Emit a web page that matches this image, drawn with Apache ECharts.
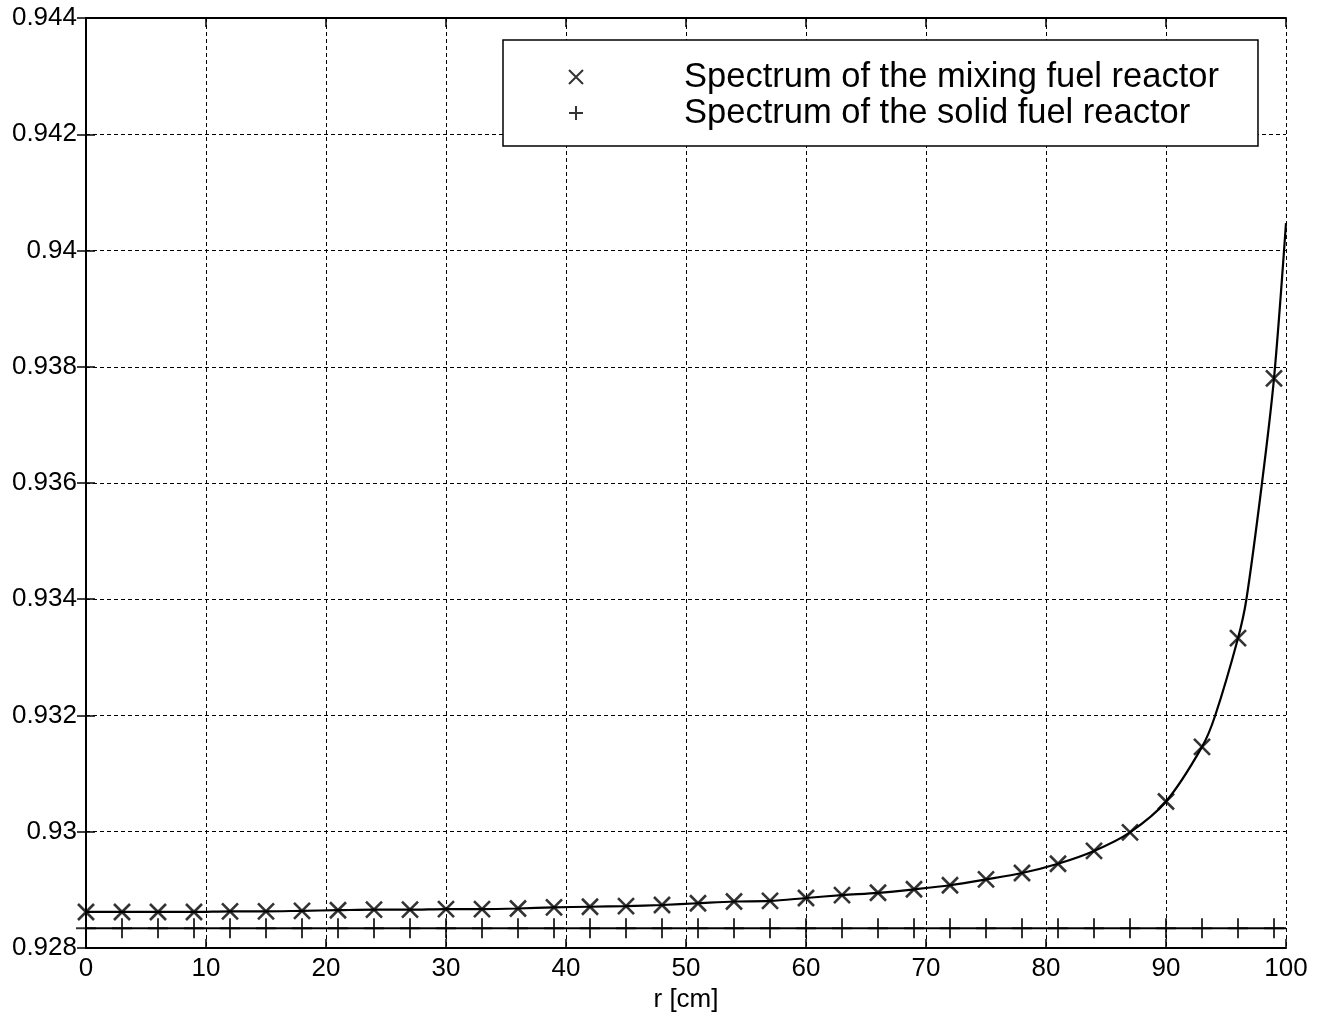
<!DOCTYPE html>
<html>
<head>
<meta charset="utf-8">
<title>Spectrum vs r</title>
<script src="https://cdn.jsdelivr.net/npm/echarts@6/dist/echarts.min.js"></script>
<style>
    html, body { margin: 0; padding: 0; background: #fff; }
    #spectrum_chart { width: 1320px; height: 1023px; }
</style>
</head>
<body>
<div id="spectrum_chart"></div>
<script>
// axis ticks
var xTicks = [0, 10, 20, 30, 40, 50, 60, 70, 80, 90, 100];
var yTicks = [0.928, 0.930, 0.932, 0.934, 0.936, 0.938, 0.940, 0.942, 0.944];

var seriesNames = ['Spectrum of the mixing fuel reactor', 'Spectrum of the solid fuel reactor'];

// mixing fuel reactor (x markers)
var mixR = [0, 3, 6, 9, 12, 15, 18, 21, 24, 27, 30, 33, 36, 39, 42, 45, 48,
            51, 54, 57, 60, 63, 66, 69, 72, 75, 78, 81, 84, 87, 90, 93, 96, 99];
var mixSpectrum = [0.92862, 0.92862, 0.92862, 0.92862, 0.92863, 0.92863, 0.92864,
                   0.92865, 0.92866, 0.92866, 0.92867, 0.92867, 0.92868, 0.92870,
                   0.92871, 0.92872, 0.92874, 0.92877, 0.92880, 0.92881, 0.92886,
                   0.92891, 0.92895, 0.92901, 0.92908, 0.92918, 0.92929, 0.92945,
                   0.92967, 0.92999, 0.93052, 0.93146, 0.93333, 0.93780];

// solid curve through the markers; extra points read where it crosses the grid
var curveR = [0, 3, 6, 9, 12, 15, 18, 21, 24, 27, 30, 33, 36, 39, 42, 45, 48,
              51, 54, 57, 60, 63, 66, 69, 72, 75, 78, 81, 84, 87, 90, 93, 94.1,
              96, 96.7, 98, 99, 100];
var curveSpectrum = [0.92862, 0.92862, 0.92862, 0.92862, 0.92863, 0.92863, 0.92864,
                     0.92865, 0.92866, 0.92866, 0.92867, 0.92867, 0.92868, 0.92870,
                     0.92871, 0.92872, 0.92874, 0.92877, 0.92880, 0.92881, 0.92886,
                     0.92891, 0.92895, 0.92901, 0.92908, 0.92918, 0.92929, 0.92945,
                     0.92967, 0.92999, 0.93052, 0.93146, 0.93200, 0.93333, 0.93400,
                     0.93600, 0.93780, 0.94047];

// solid fuel reactor (+ markers)
var solidR = [0, 3, 6, 9, 12, 15, 18, 21, 24, 27, 30, 33, 36, 39, 42, 45, 48,
              51, 54, 57, 60, 63, 66, 69, 72, 75, 78, 81, 84, 87, 90, 93, 96, 99];
var solidSpectrum = [0.92834, 0.92834, 0.92834, 0.92834, 0.92834, 0.92834, 0.92834,
                     0.92834, 0.92834, 0.92834, 0.92834, 0.92834, 0.92834, 0.92834,
                     0.92834, 0.92834, 0.92834, 0.92834, 0.92834, 0.92834, 0.92834,
                     0.92834, 0.92834, 0.92834, 0.92834, 0.92834, 0.92834, 0.92834,
                     0.92834, 0.92834, 0.92834, 0.92834, 0.92834, 0.92834];
var solidLineR = [0, 100];
var solidLineValue = [0.92834, 0.92834];

var crossPath = 'path://M0,0L10,10M10,0L0,10';
var plusPath = 'path://M5,0L5,10M0,5L10,5';
var fontFamily = '"Liberation Sans", Arial, sans-serif';

function pairs(xs, ys) {
    return xs.map(function (x, i) { return [x, ys[i]]; });
}

function draw() {
    var chart = echarts.init(document.getElementById('spectrum_chart'));

    var tickStyle = { color: '#000', width: 1.5 };
    var axisLineStyle = { color: '#000', width: 2 };
    var gridLineStyle = { color: '#000', width: 1, type: [4, 3] };

    var option = {
        animation: false,
        backgroundColor: '#fff',
        grid: {
            left: 86,
            right: 34,
            top: 18,
            bottom: 75,
            outerBoundsMode: 'none'
        },
        legend: {
            orient: 'vertical',
            left: 503,
            top: 40,
            padding: [19, 39, 15, 65],
            backgroundColor: '#fff',
            borderColor: '#000',
            borderWidth: 1.5,
            borderRadius: 0,
            itemWidth: 14,
            itemHeight: 14,
            itemGap: 0,
            selectedMode: false,
            data: [
                { name: seriesNames[0], icon: crossPath },
                { name: seriesNames[1], icon: plusPath }
            ],
            itemStyle: { color: 'transparent', borderColor: '#000', borderWidth: 2 },
            textStyle: {
                fontSize: 34.5,
                lineHeight: 36,
                color: '#000',
                fontFamily: fontFamily,
                padding: [0, 0, 0, 96]
            }
        },
        xAxis: [
            {
                type: 'value',
                position: 'bottom',
                min: xTicks[0],
                max: xTicks[xTicks.length - 1],
                interval: xTicks[1] - xTicks[0],
                name: 'r [cm]',
                nameLocation: 'middle',
                nameGap: 36,
                nameTextStyle: { fontSize: 26, color: '#000', fontFamily: fontFamily },
                axisLine: { lineStyle: axisLineStyle },
                axisTick: { inside: true, length: 9, lineStyle: tickStyle },
                axisLabel: { fontSize: 26, color: '#000', margin: 8, fontFamily: fontFamily },
                splitLine: { show: true, lineStyle: gridLineStyle }
            },
            {
                type: 'value',
                position: 'top',
                min: xTicks[0],
                max: xTicks[xTicks.length - 1],
                interval: xTicks[1] - xTicks[0],
                axisLine: { lineStyle: axisLineStyle },
                axisTick: { inside: true, length: 9, lineStyle: tickStyle },
                axisLabel: { show: false },
                splitLine: { show: false }
            }
        ],
        yAxis: [
            {
                type: 'value',
                position: 'left',
                min: yTicks[0],
                max: yTicks[yTicks.length - 1],
                interval: 0.002,
                axisLine: { show: true, lineStyle: axisLineStyle },
                axisTick: { show: true, inside: true, length: 9, lineStyle: tickStyle },
                axisLabel: {
                    fontSize: 26,
                    color: '#000',
                    margin: 9,
                    fontFamily: fontFamily,
                    formatter: function (v) { return String(parseFloat(v.toFixed(3))); }
                },
                splitLine: { show: true, lineStyle: gridLineStyle }
            },
            {
                type: 'value',
                position: 'right',
                min: yTicks[0],
                max: yTicks[yTicks.length - 1],
                interval: 0.002,
                axisLine: { show: true, lineStyle: axisLineStyle },
                axisTick: { show: true, inside: true, length: 9, lineStyle: tickStyle },
                axisLabel: { show: false },
                splitLine: { show: false }
            }
        ],
        series: [
            {
                name: 'mixing curve',
                type: 'line',
                silent: true,
                showSymbol: false,
                smooth: 0.3,
                lineStyle: { color: '#000', width: 2.2 },
                data: pairs(curveR, curveSpectrum)
            },
            {
                name: 'solid line',
                type: 'line',
                silent: true,
                showSymbol: false,
                lineStyle: { color: '#000', width: 2.2 },
                data: pairs(solidLineR, solidLineValue)
            },
            {
                name: seriesNames[0],
                type: 'scatter',
                silent: true,
                clip: false,
                z: 5,
                symbol: crossPath,
                symbolSize: 16,
                itemStyle: { color: 'transparent', borderColor: '#000', borderWidth: 2.6 },
                data: pairs(mixR, mixSpectrum)
            },
            {
                name: seriesNames[1],
                type: 'scatter',
                silent: true,
                clip: false,
                z: 5,
                symbol: plusPath,
                symbolSize: 20,
                itemStyle: { color: 'transparent', borderColor: '#000', borderWidth: 2 },
                data: pairs(solidR, solidSpectrum)
            }
        ]
    };

    chart.setOption(option);
    window.onresize = chart.resize;
}

draw();
</script>
</body>
</html>
